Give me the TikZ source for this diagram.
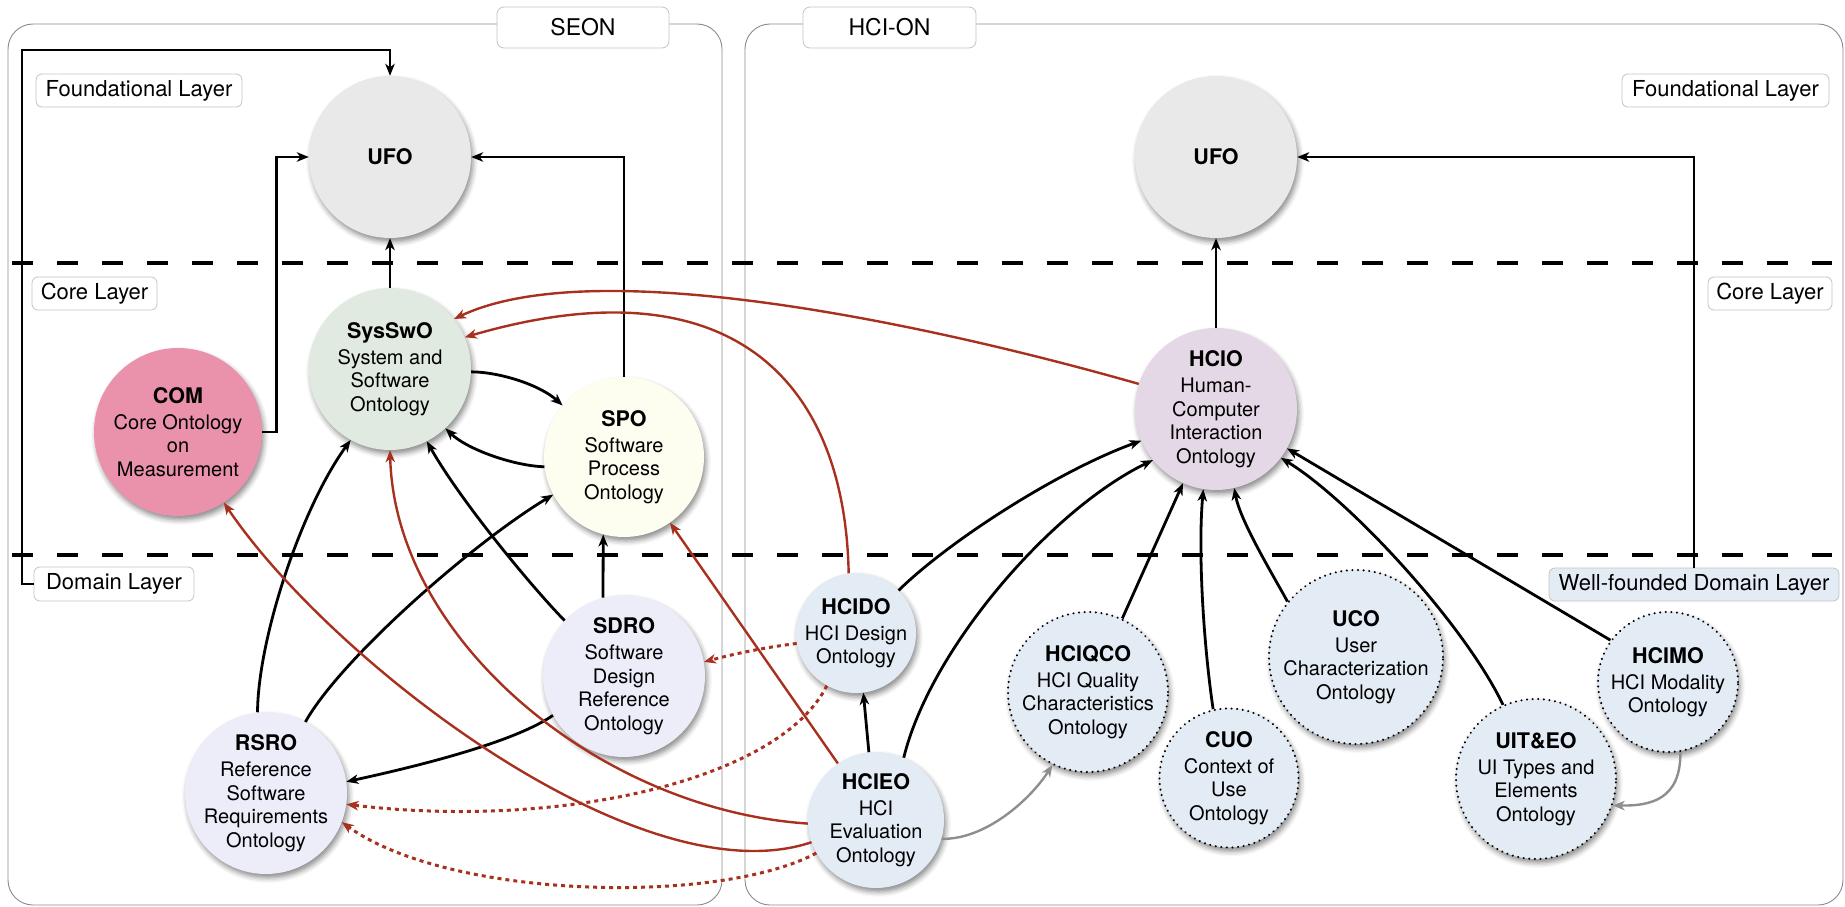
\documentclass[tikz,border=0pt]{standalone}
\usepackage{fontspec}
\setmainfont{TeX Gyre Heros}
\usetikzlibrary{arrows.meta,shadows.blur}

\definecolor{redarr}{HTML}{A8301F}
\definecolor{grayarr}{HTML}{8E8E8E}
\definecolor{boxline}{HTML}{8A8A8A}
\definecolor{lblline}{HTML}{C4C4C4}
\definecolor{ufofill}{HTML}{E8E9E8}
\definecolor{sysfill}{HTML}{E1EAE0}
\definecolor{comfill}{HTML}{EA91AB}
\definecolor{spofill}{HTML}{FDFDF0}
\definecolor{sdrofill}{HTML}{EDEDFA}
\definecolor{hciofill}{HTML}{E5D8E6}
\definecolor{hcifill}{HTML}{E3ECF5}

\newcommand{\otitle}{\fontsize{21.5}{24}\selectfont\bfseries}

\begin{document}
\begin{tikzpicture}[x=1pt,y=-1pt,
  onto/.style={circle, inner sep=-20pt, align=center,
    font=\fontsize{20}{23.5}\selectfont,
    blur shadow={shadow xshift=2pt, shadow yshift=-4pt, shadow blur radius=5pt, shadow opacity=45}},
  wellfounded/.style={onto, fill=hcifill, draw=black, line width=2.3pt,
    dash pattern=on 0.01pt off 5.6pt, line cap=round},
  lbl/.style={draw=lblline, fill=white, rounded corners=6pt, line width=0.8pt,
    inner sep=0pt, minimum height=33pt, font=\fontsize{22}{26}\selectfont},
  grouplbl/.style={lbl, rounded corners=7pt, minimum height=41pt, font=\fontsize{23}{27}\selectfont},
  container/.style={draw=boxline, line width=0.9pt, rounded corners=25pt},
  layersep/.style={draw=black, line width=4.5pt, dash pattern=on 21pt off 24pt},
  blk/.style={draw=black, line width=2.8pt, -{Stealth[length=12pt,width=9.5pt,inset=3.5pt]}},
  redc/.style={draw=redarr, line width=2.4pt, -{Stealth[length=12pt,width=9.5pt,inset=3.5pt]}},
  reddot/.style={redc, line width=3pt, dash pattern=on 4pt off 4pt},
  gry/.style={draw=grayarr, line width=2.4pt, -{Stealth[length=12pt,width=9.5pt,inset=3.5pt]}}
]
\useasboundingbox (0,0) rectangle (1845,907);

% group frames
\draw[container] (8,24) rectangle (722,905);
\draw[container] (745,24) rectangle (1843,905);

% layer separators
\draw[layersep] (12,263) -- (1832,263);
\draw[layersep] (12,555) -- (1832,555);

% group and layer labels
\node[grouplbl, minimum width=172pt] (SEONlbl) at (583,27.5) {SEON};
\node[grouplbl, minimum width=173pt] (HCIONlbl) at (889.5,27.5) {HCI-ON};
\node[lbl, minimum width=206pt] (FoundL) at (139,90.5) {Foundational Layer};
\node[lbl, minimum width=125pt] (CoreL) at (94.5,293.5) {Core Layer};
\node[lbl, minimum width=160pt, minimum height=34pt] (DomL) at (114,584) {Domain Layer};
\node[lbl, minimum width=207pt] (FoundR) at (1725.5,90.5) {Foundational Layer};
\node[lbl, minimum width=124pt] (CoreR) at (1770,293.5) {Core Layer};
\node[lbl, fill=hcifill, minimum width=290pt] (WellF) at (1694,584.5) {Well-founded Domain Layer};

% SEON ontologies
\node[onto, fill=ufofill, minimum size=162pt] (UFOa) at (390,157) {{\otitle UFO}};
\node[onto, fill=sysfill, minimum size=162pt] (SysSwO) at (390,369)
  {{\otitle SysSwO}\\[2.5pt]System and\\Software\\Ontology};
\node[onto, fill=comfill, minimum size=168pt] (COM) at (178,432)
  {{\otitle COM}\\[2.5pt]Core Ontology\\on\\Measurement};
\node[onto, fill=spofill, minimum size=160pt] (SPO) at (624,457)
  {{\otitle SPO}\\[2.5pt]Software\\Process\\Ontology};
\node[onto, fill=sdrofill, minimum size=162pt] (SDRO) at (624,676)
  {{\otitle SDRO}\\[2.5pt]Software\\Design\\Reference\\Ontology};
\node[onto, fill=sdrofill, minimum size=162pt] (RSRO) at (266,793)
  {{\otitle RSRO}\\[2.5pt]Reference\\Software\\Requirements\\Ontology};

% HCI-ON ontologies
\node[onto, fill=ufofill, minimum size=162pt] (UFOb) at (1216,157) {{\otitle UFO}};
\node[onto, fill=hciofill, minimum size=162pt] (HCIO) at (1216,409)
  {{\otitle HCIO}\\[2.5pt]Human-\\Computer\\Interaction\\Ontology};
\node[onto, fill=hcifill, minimum size=120pt] (HCIDO) at (856,633)
  {{\otitle HCIDO}\\[2.5pt]HCI Design\\Ontology};
\node[onto, fill=hcifill, minimum size=136pt] (HCIEO) at (876,820)
  {{\otitle HCIEO}\\[2.5pt]HCI\\Evaluation\\Ontology};
\node[wellfounded, minimum size=160pt] (HCIQCO) at (1088,692)
  {{\otitle HCIQCO}\\[2.5pt]HCI Quality\\Characteristics\\Ontology};
\node[wellfounded, minimum size=139pt] (CUO) at (1229,778)
  {{\otitle CUO}\\[2.5pt]Context of\\Use\\Ontology};
\node[wellfounded, minimum size=174pt] (UCO) at (1356,657)
  {{\otitle UCO}\\[2.5pt]User\\Characterization\\Ontology};
\node[wellfounded, minimum size=160pt] (UITEO) at (1536,779)
  {{\otitle UIT\&EO}\\[2.5pt]UI Types and\\Elements\\Ontology};
\node[wellfounded, minimum size=140pt] (HCIMO) at (1668,682)
  {{\otitle HCIMO}\\[2.5pt]HCI Modality\\Ontology};

\coordinate (cornerTL) at (22,50);

% SEON dependencies
\draw[blk] (SysSwO.north) -- (UFOa.south);
\draw[blk] (COM.east) -- ++(14,0) |- (UFOa.west);
\draw[blk] (SPO.north) |- (UFOa.east);
\draw[blk] (DomL.west) -| (cornerTL) -| (UFOa.north);
\draw[blk] (SysSwO.-2) .. controls (500,372) and (540,385) .. (SPO.140);
\draw[blk] (SPO.187) .. controls (515,466) and (468,450) .. (SysSwO.-47);
\draw[blk] (RSRO.96) .. controls (258,640) and (300,510) .. (SysSwO.-119);
\draw[blk] (RSRO.61) .. controls (340,660) and (470,545) .. (SPO.208);
\draw[blk] (SDRO.137) .. controls (530,585) and (460,500) .. (SysSwO.-63);
\draw[blk] (SDRO.105) -- (SPO.255);
\draw[blk] (SDRO.209) .. controls (510,745) and (400,770) .. (RSRO.8);

% HCI-ON dependencies
\draw[blk] (HCIO.north) -- (UFOb.south);
\draw[blk] (WellF.north) |- (UFOb.east);
\draw[blk] (HCIDO.45) .. controls (950,540) and (1060,470) .. (HCIO.203);
\draw[blk] (HCIEO.96) -- (HCIDO.-83);
\draw[blk] (HCIEO.66) .. controls (930,650) and (1050,510) .. (HCIO.219);
\draw[blk] (HCIQCO.65) -- (HCIO.246);
\draw[blk] (CUO.103) .. controls (1203,640) and (1198,550) .. (HCIO.261);
\draw[blk] (UCO.141) .. controls (1270,570) and (1240,520) .. (HCIO.-77);
\draw[blk] (UITEO.114) .. controls (1465,625) and (1350,500) .. (HCIO.-37);
\draw[blk] (HCIMO.144) -- (HCIO.-29);
\draw[gry] (HCIEO.-16) .. controls (985,840) and (1030,800) .. (HCIQCO.244);
\draw[gry] (HCIMO.-80) .. controls (1681,800) and (1650,806) .. (UITEO.-19);

% links across the two networks
\draw[redc] (HCIO.162) .. controls (950,330) and (600,250) .. (SysSwO.38);
\draw[redc] (HCIDO.97) .. controls (845,380) and (730,260) .. (SysSwO.23);
\draw[redc] (HCIEO.183) .. controls (600,810) and (395,640) .. (SysSwO.-90);
\draw[redc] (HCIEO.199) .. controls (640,900) and (330,660) .. (COM.-57);
\draw[redc] (HCIEO.124) -- (SPO.-55);
\draw[reddot] (HCIDO.190) .. controls (760,648) and (730,655) .. (SDRO.10);
\draw[reddot] (HCIDO.241) .. controls (780,780) and (560,830) .. (RSRO.-8);
\draw[reddot] (HCIEO.209) .. controls (720,905) and (450,900) .. (RSRO.-21);
\end{tikzpicture}
\end{document}
